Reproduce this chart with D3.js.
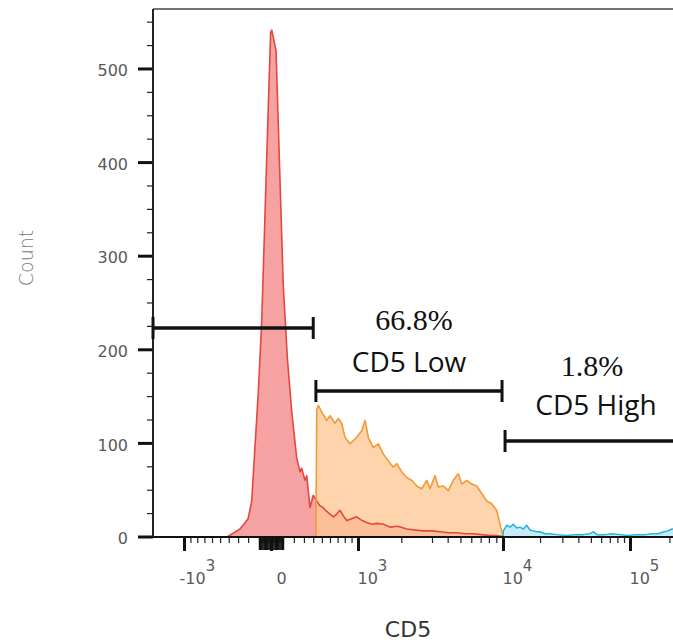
<!DOCTYPE html>
<html>
<head>
<meta charset="utf-8">
<script src="https://cdn.jsdelivr.net/npm/d3@7"></script>
<style>
  html, body { margin: 0; padding: 0; background: #fff; }
  svg { display: block; }
</style>
</head>
<body>
<svg id="chart" width="673" height="643"></svg>
<script>
// CD5 intensity (biexponential axis) and event counts per population
const negIntensity = [-410, -280, -200, -166, -136, -107, -77, -49, -22, -3, 6, 41, 74, 103, 139,
  179, 227, 260, 277, 311, 329, 364, 401, 439, 475, 513, 555, 600, 645, 688, 733, 780, 828, 900, 979,
  1080, 1170, 1280, 1383, 1540, 1700, 1900, 2160, 2400, 2680, 3050, 3480, 4050, 4690, 5400, 6170,
  7100, 8140, 9100, 10000];
const negCounts = [0, 8, 19, 38, 96, 153, 229, 344, 458, 538, 541, 519, 382, 267, 191,
  134, 84, 69, 73, 60, 65, 31, 44, 38, 33, 31, 27, 24, 21, 24, 28, 22, 17, 19, 21,
  17, 15, 13, 14, 13, 10, 11, 8, 7, 6, 6, 5, 4, 4, 3, 3,
  2, 1, 1, 0];

const lowIntensity = [430, 440, 458, 498, 559, 600, 665, 710, 757, 803, 877, 979, 1071, 1136, 1203,
  1308, 1419, 1535, 1656, 1784, 1874, 2012, 2156, 2307, 2466, 2632, 2807, 2926, 3175, 3376,
  3699, 4046, 4418, 4818, 5107, 5558, 6042, 6562, 7121, 7720, 8363, 9055, 9645, 10058];
const lowCounts = [0, 136, 140, 133, 124, 129, 121, 126, 121, 106, 99, 106, 113, 124, 106,
  95, 99, 88, 81, 74, 78, 69, 63, 60, 54, 51, 60, 51, 65, 53,
  54, 49, 60, 67, 56, 60, 56, 54, 46, 38, 35, 28, 10, 0];

const highIntensity = [10000, 10060, 10730, 11430, 12170, 12970, 13800, 14680, 15640, 16620,
  17670, 18810, 19990, 21900, 23990, 27090, 32450, 37660, 43460, 49240, 52220, 55760, 64270,
  72760, 83820, 96540, 111150, 130240, 147290, 163660, 181850, 195090, 209270, 224480];
const highCounts = [0, 6, 12, 10, 13, 9, 10, 8, 12, 7,
  6, 5, 5, 3, 3, 2, 1, 2, 2, 3, 5, 2, 2,
  3, 2, 1, 2, 2, 3, 3, 5, 6, 8, 8];

// axis ticks
const xMajorTicks = [-1000, 0, 1000, 10000, 100000];
const xMajorBase = ["-10", "0", "10", "10", "10"];
const xMajorExp = ["3", "", "3", "4", "5"];
const xMinorTicks = [-900, -800, -700, -600, -500, -400, -300, -200,
  -100, -90, -80, -70, -60, -50, -40, -30, -20, -10, 10, 20, 30, 40, 50, 60, 70, 80, 90, 100,
  200, 300, 400, 500, 600, 700, 800, 900,
  2000, 3000, 4000, 5000, 6000, 7000, 8000, 9000,
  20000, 30000, 40000, 50000, 60000, 70000, 80000, 90000, 200000];
const xZeroCluster = [-100, -90, -80, -70, -60, -50, -40, -30, -20, -10, 0, 10, 20, 30, 40, 50, 60, 70, 80, 90, 100];
const yMajorTicks = [0, 100, 200, 300, 400, 500];
const yMinorTicks = [25, 50, 75, 125, 150, 175, 225, 250, 275, 325, 350, 375, 425, 450, 475, 525, 550];

// gates: intensity ranges, percentages and names
const gateStart = [-1560, 430, 10400];
const gateEnd = [400, 9850, 240000];
const gatePercent = ["", "66.8%", "1.8%"];
const gateName = ["", "CD5 Low", "CD5 High"];

const yMax = 563;

// ---- layout ----
const W = 673, H = 643;
const plotLeft = 153, plotTop = 9, plotBottom = 537;
const svg = d3.select("#chart");

const x = d3.scaleSymlog()
  .constant(1000)
  .domain([-1000, 0, 1000, 3000, 10000, 100000])
  .range([184, 271, 358, 432, 503, 630]);

const y = d3.scaleLinear().domain([0, yMax]).range([536.5, plotTop + 0.5]);

svg.append("defs").append("clipPath").attr("id", "plotClip")
  .append("rect").attr("x", plotLeft).attr("y", plotTop)
  .attr("width", W - plotLeft).attr("height", plotBottom - plotTop);

const zip = (a, b) => a.map((v, i) => [v, b[i]]);
const negData = zip(negIntensity, negCounts);
const lowData = zip(lowIntensity, lowCounts);
const highData = zip(highIntensity, highCounts);

const area = d3.area().x(d => x(d[0])).y0(y(0)).y1(d => y(d[1]));
const line = d3.line().x(d => x(d[0])).y(d => y(d[1]));

const g = svg.append("g").attr("clip-path", "url(#plotClip)");

// negative population (drawn first), then the gated populations over it
g.append("path").datum(negData).attr("d", area).attr("fill", "#f7a2a2");
g.append("path").datum(lowData).attr("d", area).attr("fill", "#fcc894").attr("fill-opacity", 0.78);
g.append("path").datum(highData).attr("d", area).attr("fill", "#c4ecfa");
g.append("path").datum(negData).attr("d", line).attr("fill", "none")
  .attr("stroke", "#e4473f").attr("stroke-width", 1.6).attr("stroke-linejoin", "round");
g.append("path").datum(lowData).attr("d", line).attr("fill", "none")
  .attr("stroke", "#f29a36").attr("stroke-width", 1.6).attr("stroke-linejoin", "round");
g.append("path").datum(highData).attr("d", line).attr("fill", "none")
  .attr("stroke", "#23b2e3").attr("stroke-width", 1.5).attr("stroke-linejoin", "round");

// frame top
svg.append("line").attr("x1", plotLeft).attr("x2", W).attr("y1", plotTop).attr("y2", plotTop)
  .attr("stroke", "#444").attr("stroke-width", 1.6);

// y axis
const yMinorAxis = d3.axisLeft(y).tickValues(yMinorTicks).tickSize(6).tickFormat("");
const yMajorAxis = d3.axisLeft(y).tickValues(yMajorTicks).tickSize(15).tickPadding(10);
const yg1 = svg.append("g").attr("transform", `translate(${plotLeft},0)`).call(yMinorAxis);
yg1.select(".domain").remove();
yg1.selectAll("line").attr("stroke", "#222").attr("stroke-width", 1.2);
const yg2 = svg.append("g").attr("transform", `translate(${plotLeft},0)`).call(yMajorAxis);
yg2.select(".domain").remove();
yg2.selectAll("line").attr("stroke", "#111").attr("stroke-width", 3);
yg2.selectAll("text").attr("font-family", "DejaVu Sans, sans-serif").attr("font-size", 16)
  .attr("fill", "#5a5a5a").attr("dy", "0.45em");
svg.append("line").attr("x1", plotLeft).attr("x2", plotLeft).attr("y1", plotTop).attr("y2", plotBottom + 1)
  .attr("stroke", "#222").attr("stroke-width", 2);

// x axis
const xMinorAxis = d3.axisBottom(x).tickValues(xMinorTicks).tickSize(6).tickFormat("");
const xg1 = svg.append("g").attr("transform", `translate(0,${plotBottom})`).call(xMinorAxis);
xg1.select(".domain").remove();
xg1.selectAll("line").attr("stroke", "#222").attr("stroke-width", 1.2);
const xZeroAxis = d3.axisBottom(x).tickValues(xZeroCluster).tickSize(13).tickFormat("");
const xg0 = svg.append("g").attr("transform", `translate(0,${plotBottom})`).call(xZeroAxis);
xg0.select(".domain").remove();
xg0.selectAll("line").attr("stroke", "#111").attr("stroke-width", 1.5);
const xMajorAxis = d3.axisBottom(x).tickValues(xMajorTicks).tickSize(14).tickFormat("");
const xg2 = svg.append("g").attr("transform", `translate(0,${plotBottom})`).call(xMajorAxis);
xg2.select(".domain").remove();
xg2.selectAll("line").attr("stroke", "#111").attr("stroke-width", 3);
xg2.selectAll(".tick").each(function (d, i) {
  const t = d3.select(this).append("text")
    .attr("font-family", "DejaVu Sans, sans-serif").attr("fill", "#5a5a5a")
    .attr("font-size", 16).attr("y", 47)
    .attr("x", d === 0 ? 10 : (d < 0 ? -5 : -1))
    .attr("text-anchor", d === 0 ? "middle" : "start");
  t.append("tspan").text(xMajorBase[i]);
  if (xMajorExp[i]) {
    t.append("tspan").attr("dx", 0).attr("dy", -13).attr("font-size", 15).text(xMajorExp[i]);
  }
});
svg.append("line").attr("x1", plotLeft - 1).attr("x2", W).attr("y1", plotBottom).attr("y2", plotBottom)
  .attr("stroke", "#111").attr("stroke-width", 2);

// gates
const gateY = [328, 391, 441];
gateStart.forEach((s, i) => {
  const x1 = Math.max(x(s), plotLeft), x2 = Math.min(x(gateEnd[i]), W + 10);
  const gg = svg.append("g").attr("stroke", "#111").attr("stroke-width", 3.5);
  gg.append("line").attr("x1", x1).attr("x2", x2).attr("y1", gateY[i]).attr("y2", gateY[i]);
  gg.append("line").attr("x1", x1).attr("x2", x1).attr("y1", gateY[i] - 11).attr("y2", gateY[i] + 11)
    .attr("stroke-width", 3);
  gg.append("line").attr("x1", x2).attr("x2", x2).attr("y1", gateY[i] - 11).attr("y2", gateY[i] + 11)
    .attr("stroke-width", 3);
});

// gate annotations
const pctPos = [null, [414, 330], [592, 376]];
const namePos = [null, [409, 372], [596, 415]];
gatePercent.forEach((p, i) => {
  if (!p) return;
  svg.append("text").attr("x", pctPos[i][0]).attr("y", pctPos[i][1]).attr("text-anchor", "middle")
    .attr("font-family", "Liberation Serif, serif").attr("font-size", 30).attr("fill", "#111").text(p);
  svg.append("text").attr("x", namePos[i][0]).attr("y", namePos[i][1]).attr("text-anchor", "middle")
    .attr("font-family", "Open Sans, sans-serif").attr("font-size", 28).attr("fill", "#111").text(gateName[i]);
});

// axis titles
svg.append("text").attr("transform", "translate(33,258) rotate(-90)").attr("text-anchor", "middle")
  .attr("font-family", "DejaVu Sans, sans-serif").attr("font-weight", 200).attr("font-size", 19)
  .attr("fill", "#7a7a7a").text("Count");
svg.append("text").attr("x", 408).attr("y", 637).attr("text-anchor", "middle")
  .attr("font-family", "DejaVu Sans, sans-serif").attr("font-size", 22).attr("fill", "#333").text("CD5");
</script>
</body>
</html>
